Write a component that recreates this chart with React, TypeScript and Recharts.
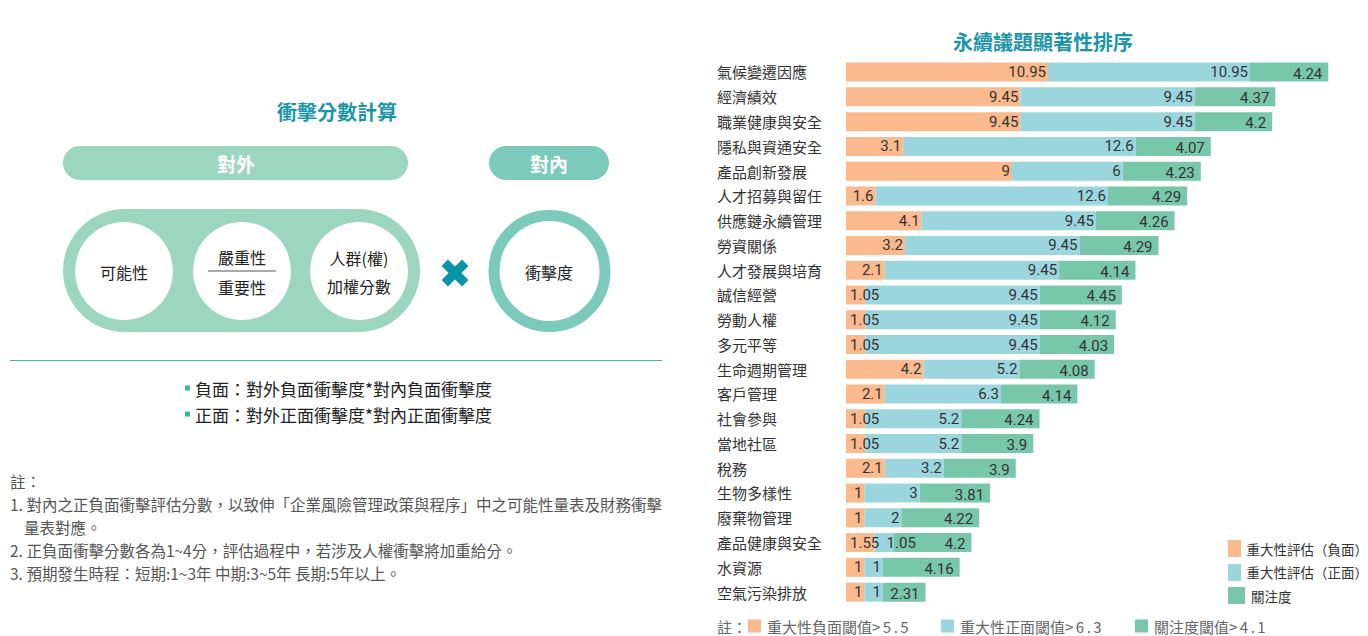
import React from 'react';
import { BarChart, Bar, XAxis, YAxis, LabelList, Legend } from 'recharts';

const categories = ['氣候變遷因應','經濟績效','職業健康與安全','隱私與資通安全','產品創新發展','人才招募與留任','供應鏈永續管理','勞資關係','人才發展與培育','誠信經營','勞動人權','多元平等','生命週期管理','客戶管理','社會參與','當地社區','稅務','生物多樣性','廢棄物管理','產品健康與安全','水資源','空氣污染排放'];
const negativeScores = [10.95, 9.45, 9.45, 3.1, 9, 1.6, 4.1, 3.2, 2.1, 1.05, 1.05, 1.05, 4.2, 2.1, 1.05, 1.05, 2.1, 1, 1, 1.55, 1, 1];
const positiveScores = [10.95, 9.45, 9.45, 12.6, 6, 12.6, 9.45, 9.45, 9.45, 9.45, 9.45, 9.45, 5.2, 6.3, 5.2, 5.2, 3.2, 3, 2, 1.05, 1, 1];
const attentionScores = [4.24, 4.37, 4.2, 4.07, 4.23, 4.29, 4.26, 4.29, 4.14, 4.45, 4.12, 4.03, 4.08, 4.14, 4.24, 3.9, 3.9, 3.81, 4.22, 4.2, 4.16, 2.31];
const seriesNames = ['重大性評估（負面）', '重大性評估（正面）', '關注度'];
const thresholdNotes = ['重大性負面閾值>5.5', '重大性正面閾值>6.3', '關注度閾值>4.1'];
const seriesColors = ['#fbba8e', '#9bd6de', '#78c7ab'];

const chartTitle = '永續議題顯著性排序';
const diagramTitle = '衝擊分數計算';
const formulaLines = ['負面：對外負面衝擊度*對內負面衝擊度', '正面：對外正面衝擊度*對內正面衝擊度'];
const noteLines = [
  '註：',
  '1. 對內之正負面衝擊評估分數，以致伸「企業風險管理政策與程序」中之可能性量表及財務衝擊',
  '    量表對應。',
  '2. 正負面衝擊分數各為1~4分，評估過程中，若涉及人權衝擊將加重給分。',
  '3. 預期發生時程：短期:1~3年 中期:3~5年 長期:5年以上。',
];

const data = categories.map((name, i) => ({
  name,
  neg: negativeScores[i],
  pos: positiveScores[i],
  att: attentionScores[i],
}));

const CJK = '"Noto Sans CJK TC", "Noto Sans CJK SC", sans-serif';
const NUM = 'Roboto, "Noto Sans", sans-serif';

const makeLabel = (dx: number, dy: number, overflowStart: number) => (props: any) => {
  const { x, y, width, height, value } = props;
  const text = String(value);
  const tw = text.length * 8.4 - (text.includes('.') ? 4.5 : 0);
  const fits = tw + 4 <= width;
  return (
    <text
      x={fits ? x + width - dx : x + overflowStart}
      y={y + height / 2 + dy}
      textAnchor={fits ? 'end' : 'start'}
      dominantBaseline="central"
      fontSize={15}
      fill="#333"
      fontFamily={NUM}
    >
      {text}
    </text>
  );
};

const CategoryTick = (props: any) => {
  const { y, payload } = props;
  return (
    <text x={17} y={y} dominantBaseline="central" fontSize={15} fill="#333" fontFamily={CJK}>
      {payload.value}
    </text>
  );
};

const LegendContent = () => (
  <div style={{ fontFamily: CJK, fontSize: 13.5, color: '#333', whiteSpace: 'nowrap' }}>
    {seriesNames.map((n, i) => (
      <div key={n} style={{ display: 'flex', alignItems: 'center', height: 23.5 }}>
        <span style={{ display: 'inline-block', width: 17, height: 17, background: seriesColors[i], marginRight: 6 }} />
        <span>{n}</span>
      </div>
    ))}
  </div>
);

const LeftDiagram = () => {
  const green = '#9dd6c0';
  const teal = '#7ccabb';
  const textStyle = { fontFamily: CJK } as const;
  return (
    <svg width={700} height={636} style={{ position: 'absolute', left: 0, top: 0 }}>
      <text x={337} y={111} textAnchor="middle" dominantBaseline="central" fontSize={20} fontWeight={700} fill="#1b96a8" style={textStyle}>{diagramTitle}</text>
      <rect x={63} y={146} width={345} height={34} rx={17} fill={green} />
      <text x={236} y={163} textAnchor="middle" dominantBaseline="central" fontSize={19} fontWeight={700} fill="#fff" style={textStyle}>對外</text>
      <rect x={489} y={146} width={120} height={34} rx={17} fill={teal} />
      <text x={549} y={163} textAnchor="middle" dominantBaseline="central" fontSize={19} fontWeight={700} fill="#fff" style={textStyle}>對內</text>
      <rect x={63} y={209} width={357} height={123} rx={61.5} fill={green} />
      <circle cx={124} cy={271} r={49} fill="#fff" />
      <circle cx={242} cy={271} r={49} fill="#fff" />
      <circle cx={359} cy={271} r={49} fill="#fff" />
      <text x={124} y={272} textAnchor="middle" dominantBaseline="central" fontSize={16} fill="#222" style={textStyle}>可能性</text>
      <text x={242} y={257} textAnchor="middle" dominantBaseline="central" fontSize={16} fill="#222" style={textStyle}>嚴重性</text>
      <line x1={208} x2={276} y1={271} y2={271} stroke="#555" strokeWidth={1} />
      <text x={242} y={287} textAnchor="middle" dominantBaseline="central" fontSize={16} fill="#222" style={textStyle}>重要性</text>
      <text x={359} y={258} textAnchor="middle" dominantBaseline="central" fontSize={16} fill="#222" style={textStyle}>人群(權)</text>
      <text x={359} y={286} textAnchor="middle" dominantBaseline="central" fontSize={16} fill="#222" style={textStyle}>加權分數</text>
      <g transform="translate(455,273)" fill="#0b93a8">
        <rect x={-14.5} y={-4.5} width={29} height={9} transform="rotate(45)" />
        <rect x={-14.5} y={-4.5} width={29} height={9} transform="rotate(-45)" />
      </g>
      <circle cx={549.5} cy={271} r={55.5} fill="#fff" stroke={teal} strokeWidth={11} />
      <text x={549} y={272} textAnchor="middle" dominantBaseline="central" fontSize={16} fill="#222" style={textStyle}>衝擊度</text>
      <line x1={10} x2={662} y1={360.5} y2={360.5} stroke="#4cb99b" strokeWidth={1} />
      {formulaLines.map((t, i) => (
        <g key={t}>
          <rect x={185} y={385.5 + i * 26} width={5} height={5} fill="#3dba8e" />
          <text x={195} y={388 + i * 26} dominantBaseline="central" fontSize={17} fill="#222" style={textStyle}>{t}</text>
        </g>
      ))}
      {noteLines.map((t, i) => (
        <text key={i} x={10} y={481 + i * 23} dominantBaseline="central" fontSize={15.5} fill="#555" style={{ ...textStyle, whiteSpace: 'pre' }} xmlSpace="preserve">{t}</text>
      ))}
    </svg>
  );
};

const RightOverlay = () => {
  const xs = [748, 941, 1135];
  return (
    <svg width={668} height={636} style={{ position: 'absolute', left: 700, top: 0, pointerEvents: 'none' }}>
      <text x={343} y={41} textAnchor="middle" dominantBaseline="central" fontSize={20} fontWeight={700} fill="#1b96a8" fontFamily={CJK}>{chartTitle}</text>
      <text x={17} y={626} dominantBaseline="central" fontSize={15} fill="#666" fontFamily={CJK}>註：</text>
      {thresholdNotes.map((t, i) => {
        const [label, val] = t.split('>');
        return (
          <g key={t}>
            <rect x={xs[i] - 700} y={619.5} width={13} height={13} fill={seriesColors[i]} />
            <text x={xs[i] - 700 + 19} y={626} dominantBaseline="central" fontSize={15} fill="#666" fontFamily={CJK}>
              {label}
              <tspan letterSpacing={2.5}>{'>' + val}</tspan>
            </text>
          </g>
        );
      })}
    </svg>
  );
};

export default function App() {
  return (
    <div style={{ position: 'absolute', left: 0, top: 0, width: 1368, height: 636, background: '#fff', overflow: 'hidden' }}>
      <LeftDiagram />
      <div style={{ position: 'absolute', left: 700, top: 0 }}>
        <BarChart
          width={668}
          height={636}
          data={data}
          layout="vertical"
          margin={{ top: 59.6, right: 5.4, bottom: 31.6, left: 0 }}
          barSize={19}
        >
          <XAxis type="number" domain={[0, 28]} hide />
          <YAxis type="category" dataKey="name" width={146} axisLine={false} tickLine={false} tick={<CategoryTick />} interval={0} />
          <Legend
            layout="vertical"
            align="center"
            verticalAlign="middle"
            content={<LegendContent />}
            wrapperStyle={{ position: 'absolute', left: 528, top: 537, width: 140, height: 72 }}
          />
          <Bar dataKey="neg" name={seriesNames[0]} stackId="a" fill={seriesColors[0]} isAnimationActive={false}>
            <LabelList dataKey="neg" content={makeLabel(2, 0, 4)} />
          </Bar>
          <Bar dataKey="pos" name={seriesNames[1]} stackId="a" fill={seriesColors[1]} isAnimationActive={false}>
            <LabelList dataKey="pos" content={makeLabel(2, 0, 12)} />
          </Bar>
          <Bar dataKey="att" name={seriesNames[2]} stackId="a" fill={seriesColors[2]} isAnimationActive={false}>
            <LabelList dataKey="att" content={makeLabel(6, 1.5, 4)} />
          </Bar>
        </BarChart>
      </div>
      <RightOverlay />
    </div>
  );
}
